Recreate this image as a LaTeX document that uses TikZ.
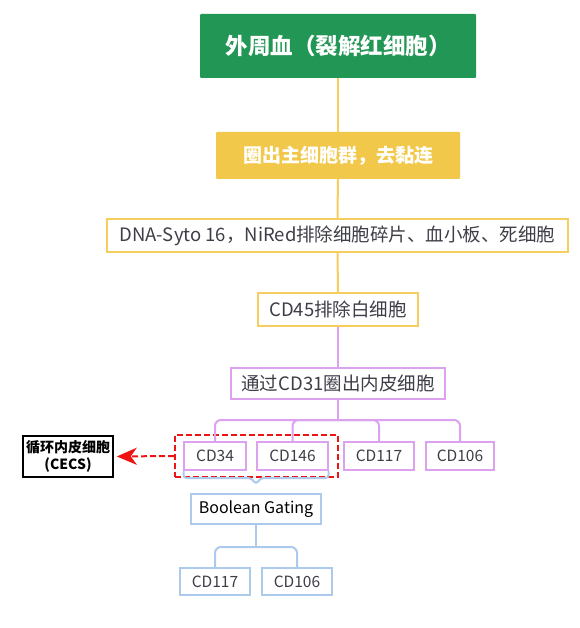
\documentclass[tikz,border=0pt]{standalone}
\usepackage{fontspec}
\setmainfont{Noto Sans CJK SC}
\usepackage{tikz}
\usetikzlibrary{arrows.meta}

\definecolor{leafgreen}{RGB}{34,150,84}
\definecolor{goldfill}{RGB}{242,200,75}
\definecolor{goldline}{RGB}{245,206,95}
\definecolor{violetline}{RGB}{220,162,240}
\definecolor{skyline}{RGB}{172,202,236}
\definecolor{inkgray}{RGB}{62,62,72}
\definecolor{alarmred}{RGB}{238,20,20}

\tikzset{
	topbox/.style={fill=leafgreen, rounded corners=1pt, text=white, font=\fontsize{22.5}{26}\selectfont\bfseries, inner sep=0pt},
	goldbox/.style={fill=goldfill, rounded corners=1pt, text=white, font=\fontsize{19}{23}\selectfont\bfseries, inner sep=0pt},
	goldframe/.style={draw=goldline, line width=2pt, fill=white, text=inkgray, font=\fontsize{18.5}{22}\selectfont, inner sep=0pt},
	violetframe/.style={draw=violetline, line width=2pt, fill=white, text=inkgray, font=\fontsize{18.5}{22}\selectfont, inner sep=0pt},
	markerbox/.style={draw=violetline, line width=2pt, fill=white, text=inkgray, font=\fontsize{15.5}{19}\selectfont, inner sep=0pt, minimum height=28pt},
	skybox/.style={draw=skyline, line width=2pt, fill=white, text=inkgray, font=\fontsize{15.5}{19}\selectfont, inner sep=0pt, minimum height=27pt}
}

\begin{document}
\begin{tikzpicture}[x=1pt, y=-1pt]
			\useasboundingbox [fill=white] (0,0) rectangle (579,628);

			\node [topbox, minimum width=276pt, minimum height=64pt](blood) at (338,46) {外周血（裂解红细胞）};
			\node [goldbox, minimum width=244pt, minimum height=47pt](gate) at (338,155.5) {圈出主细胞群，去黏连};
			\node [goldframe, minimum width=461pt, minimum height=33pt](debris) at (337.5,235.5) {DNA-Syto 16，NiRed排除细胞碎片、血小板、死细胞};
			\node [goldframe, minimum width=160pt, minimum height=33pt](cd45) at (338,309.5) {CD45排除白细胞};
			\node [violetframe, minimum width=214pt, minimum height=31pt](cd31) at (338,383.5) {通过CD31圈出内皮细胞};

			\node [markerbox, minimum width=62pt](cd34) at (215,456) {CD34};
			\node [markerbox, minimum width=71pt](cd146) at (292.5,456) {CD146};
			\node [markerbox, minimum width=70pt](cd117) at (379,456) {CD117};
			\node [markerbox, minimum width=68pt](cd106) at (460,456) {CD106};

			\node [skybox, minimum width=130pt, minimum height=30pt, text=black, font=\fontsize{16}{19}\selectfont](boolean) at (256,509) {Boolean Gating};
			\node [skybox, minimum width=70pt](bcd117) at (215,581.5) {CD117};
			\node [skybox, minimum width=70pt](bcd106) at (297,581.5) {CD106};

			\node [draw=black, line width=1.5pt, minimum width=90pt, minimum height=41pt, align=center, inner sep=0pt, font=\fontsize{14}{17}\selectfont\bfseries](cecs) at (68,456.5) {循环内皮细胞\\(CECS)};
			\node [draw=alarmred, dash pattern=on 6pt off 3pt, line width=2pt, minimum width=163pt, minimum height=42pt](rim) at (256.5,456) {};

			\coordinate (split) at (338,420);
			\coordinate (bsplit) at (256,547);

			\draw [goldline, line width=2pt](blood) -- (gate);
			\draw [goldline, line width=2pt](gate) -- (debris);
			\draw [goldline, line width=2pt](debris) -- (cd45);
			\draw [violetline, line width=2pt](cd45) -- (cd31);
			\draw [violetline, line width=2pt](cd31) -- (split);
			\foreach \m in {cd34,cd146,cd117,cd106}
				\draw [violetline, line width=2pt, rounded corners=6pt](split) -| (\m);

			% brace under the CD34 / CD146 pair
			\draw [skyline, line width=2pt, rounded corners=3pt] (183.5,471) -- (183.5,478) -- (251,478) -- (256,484) -- (261,478) -- (328.5,478) -- (328.5,471);

			\draw [skyline, line width=2pt](boolean) -- (bsplit);
			\draw [skyline, line width=2pt, rounded corners=6pt](bsplit) -| (bcd117);
			\draw [skyline, line width=2pt, rounded corners=6pt](bsplit) -| (bcd106);

			\draw [alarmred, line width=2pt, dash pattern=on 6pt off 3pt, -{Stealth[length=20pt, width=17pt, inset=6pt, sep=0pt]}, shorten >=3pt](rim.west) -- (cecs.east);

		\end{tikzpicture}
\end{document}
